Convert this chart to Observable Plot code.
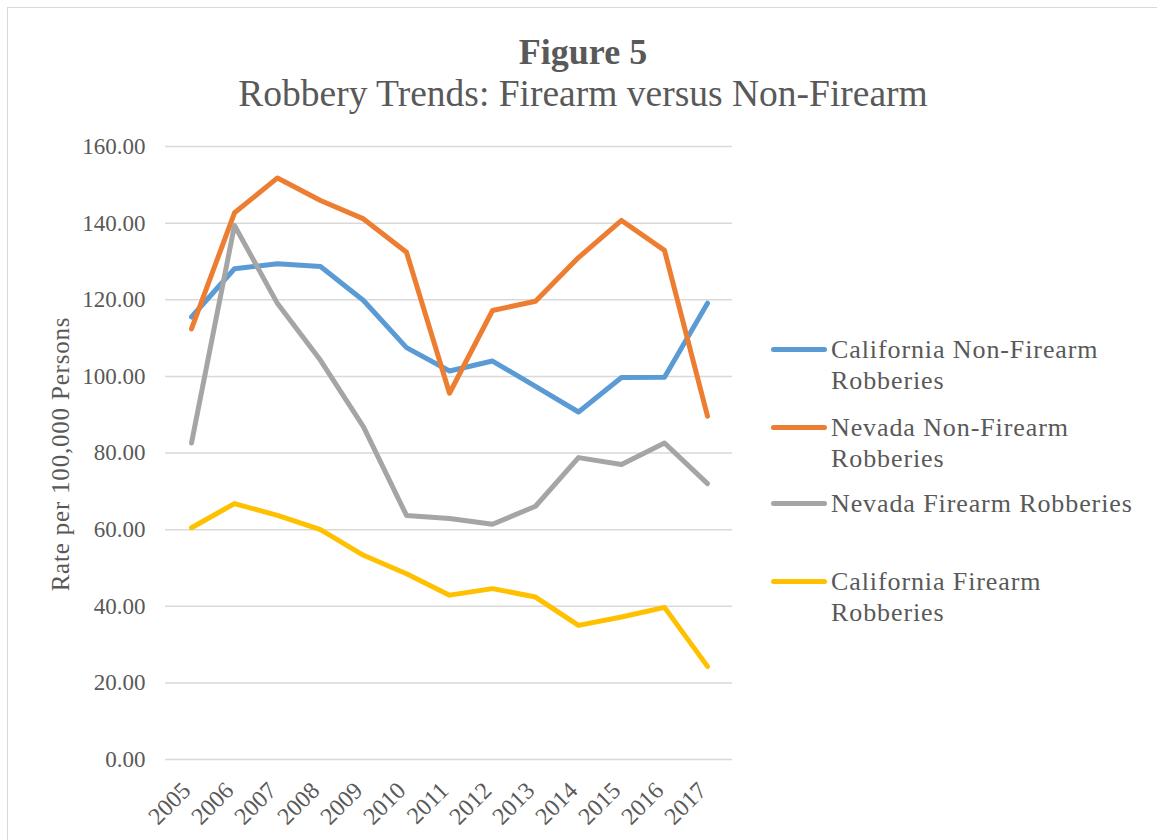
<!DOCTYPE html>
<html>
<head>
<meta charset="utf-8">
<script src="https://cdn.jsdelivr.net/npm/d3@7"></script>
<script src="https://cdn.jsdelivr.net/npm/@observablehq/plot@0.6"></script>
<style>
  html, body { margin: 0; padding: 0; background: #fff; }
  #wrap { position: relative; width: 1157px; height: 840px; overflow: hidden;
          font-family: "Liberation Serif", "Times New Roman", serif; color: #595959; }
  #frame { position: absolute; left: 7px; top: 7px; width: 1200px; height: 900px;
           border-left: 1.5px solid #d9d9d9; border-top: 1.5px solid #d9d9d9; }
  .title { position: absolute; left: 0; width: 1166px; text-align: center; line-height: 1; white-space: nowrap; }
  #t1 { top: 34px; font-size: 36px; font-weight: bold; }
  #t2 { top: 75px; font-size: 37.5px; }
  #ylab { position: absolute; left: 60px; top: 454px; transform: translate(-50%, -50%) rotate(-90deg);
          font-size: 25px; letter-spacing: 0.8px; white-space: nowrap; line-height: 1; }
  #chart { position: absolute; left: 0; top: 0; }
  .leg { position: absolute; left: 771px; height: 62px; }
  .leg .sw { position: absolute; left: 0; top: 13px; width: 56px; height: 5px; border-radius: 2.5px; }
  .leg .tx { position: absolute; left: 60px; top: 0; width: 340px; font-size: 26px; line-height: 31px; letter-spacing: 0.9px; }
</style>
</head>
<body>
<div id="wrap">
  <div id="frame"></div>
  <div id="chart"></div>
  <div class="title" id="t1"></div>
  <div class="title" id="t2"></div>
  <div id="ylab"></div>
  <div id="legend"></div>
</div>
<script>
// ---- Data ----
const titleText = "Figure 5";
const subtitleText = "Robbery Trends: Firearm versus Non-Firearm";
const yLabel = "Rate per 100,000 Persons";

const years = ["2005","2006","2007","2008","2009","2010","2011","2012","2013","2014","2015","2016","2017"];
const yTicks = [0, 20, 40, 60, 80, 100, 120, 140, 160];

const seriesNames = [
  ["California Non-Firearm", "Robberies"],
  ["Nevada Non-Firearm", "Robberies"],
  ["Nevada Firearm Robberies"],
  ["California Firearm", "Robberies"]
];
const seriesColors = ["#5B9BD5", "#ED7D31", "#A5A5A5", "#FFC000"];

const caNonFirearm = [115.5, 128.1, 129.4, 128.7, 119.8, 107.5, 101.4, 104.0, 97.4, 90.7, 99.7, 99.8, 119.1];
const nvNonFirearm = [112.4, 142.7, 151.8, 145.9, 141.1, 132.4, 95.6, 117.2, 119.6, 131.0, 140.7, 132.9, 89.6];
const nvFirearm    = [82.6, 139.4, 119.0, 104.2, 86.8, 63.7, 62.9, 61.4, 66.1, 78.8, 77.0, 82.6, 72.0];
const caFirearm    = [60.5, 66.8, 63.7, 60.0, 53.3, 48.5, 42.9, 44.6, 42.4, 35.0, 37.2, 39.7, 24.3];

const seriesValues = [caNonFirearm, nvNonFirearm, nvFirearm, caFirearm];

// ---- Build table ----
const names = seriesNames.map(n => n.join(" "));
const data = seriesValues.flatMap((vals, s) =>
  years.map((yr, i) => ({ year: yr, value: vals[i], series: names[s] })));

const fmt = d => d.toFixed(2);

const chart = Plot.plot({
  width: 1157,
  height: 840,
  marginLeft: 165,
  marginRight: 425,
  marginTop: 146,
  marginBottom: 81,
  style: { fontFamily: '"Liberation Serif", "Times New Roman", serif', fontSize: "23px", color: "#595959", background: "transparent", overflow: "visible" },
  x: { type: "point", domain: years, padding: 0.5 },
  y: { domain: [0, 160] },
  color: { domain: names, range: seriesColors },
  marks: [
    Plot.gridY(yTicks, { stroke: "#d9d9d9", strokeOpacity: 1, strokeWidth: 1.5 }),
    Plot.axisY(yTicks, { tickSize: 0, tickPadding: 20, tickFormat: fmt, label: null, fill: "#595959", letterSpacing: 0.3 }),
    Plot.axisX(years, { tickSize: 0, tickPadding: 18, tickRotate: -45, label: null, fill: "#595959", fontSize: 24, dx: -5, dy: 9 }),
    Plot.lineY(data, { x: "year", y: "value", z: "series", stroke: "series", strokeWidth: 5,
                       strokeLinejoin: "round", strokeLinecap: "round" })
  ]
});
document.getElementById("chart").appendChild(chart);

document.getElementById("t1").textContent = titleText;
document.getElementById("t2").textContent = subtitleText;
document.getElementById("ylab").textContent = yLabel;

const legendCenters = [349, 427, 503, 581];
const leg = document.getElementById("legend");
seriesNames.forEach((lines, i) => {
  const item = document.createElement("div");
  item.className = "leg";
  item.style.top = (legendCenters[i] - 15.5) + "px";
  const sw = document.createElement("div");
  sw.className = "sw";
  sw.style.background = seriesColors[i];
  const tx = document.createElement("div");
  tx.className = "tx";
  lines.forEach((l, j) => {
    if (j) tx.appendChild(document.createElement("br"));
    tx.appendChild(document.createTextNode(l));
  });
  item.appendChild(sw);
  item.appendChild(tx);
  leg.appendChild(item);
});
</script>
</body>
</html>
